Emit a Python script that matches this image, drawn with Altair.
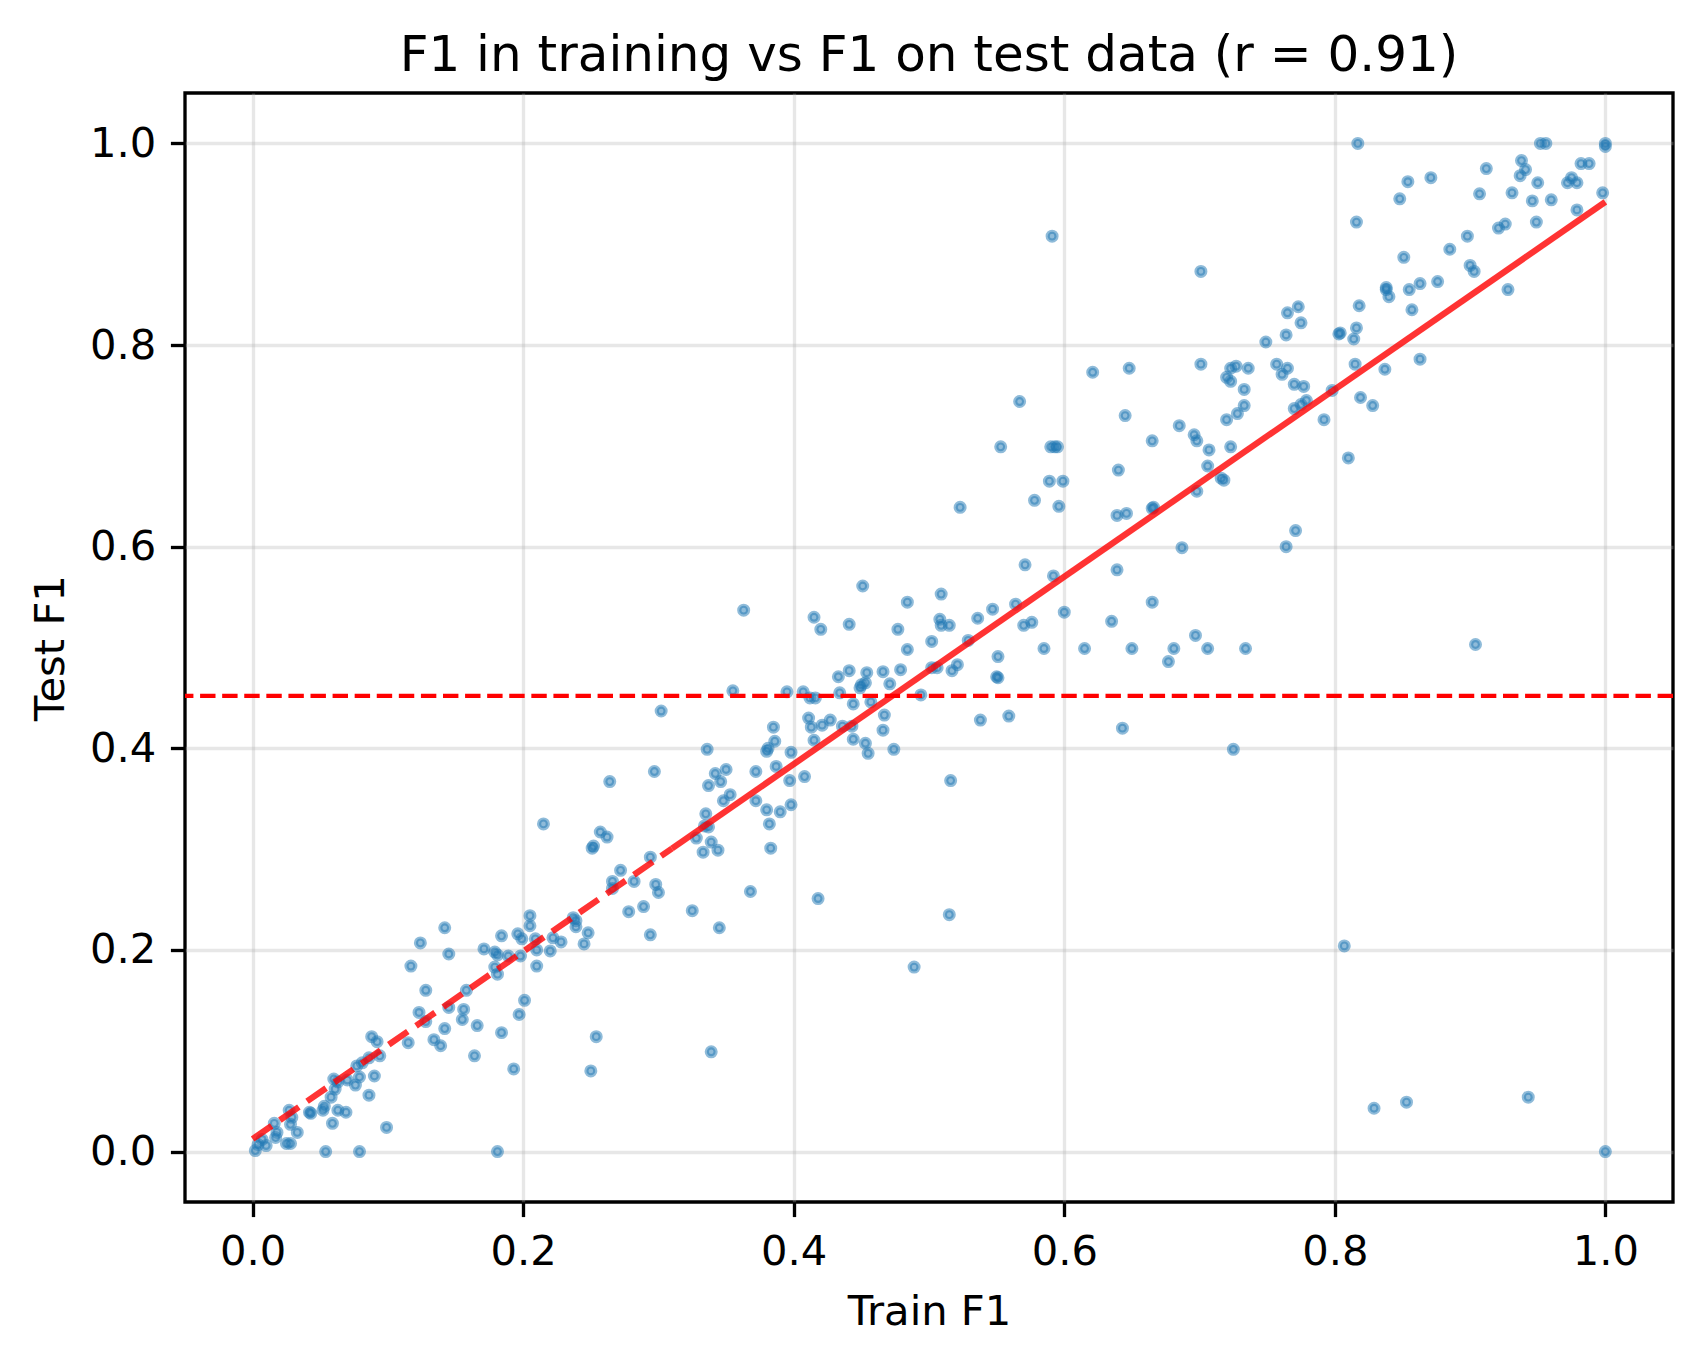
import altair as alt
import pandas as pd

# ---- data: (train F1, test F1) ----
low_points = [
    (0.002, 0.001), (0.004, 0.007), (0.007, 0.012), (0.010, 0.006), (0.016, 0.028),
    (0.018, 0.019), (0.017, 0.014), (0.025, 0.008), (0.028, 0.008), (0.027, 0.041),
    (0.029, 0.034), (0.028, 0.027), (0.033, 0.019), (0.042, 0.039), (0.043, 0.038),
    (0.052, 0.041), (0.053, 0.045), (0.058, 0.054), (0.059, 0.028), (0.063, 0.041),
    (0.069, 0.039), (0.060, 0.072), (0.061, 0.062), (0.063, 0.069), (0.070, 0.071),
    (0.076, 0.066), (0.077, 0.085), (0.081, 0.088), (0.079, 0.074), (0.086, 0.093),
    (0.090, 0.075), (0.094, 0.095), (0.086, 0.056), (0.088, 0.114), (0.092, 0.109),
    (0.099, 0.024), (0.054, 0.000), (0.079, 0.000), (0.115, 0.108), (0.123, 0.138),
    (0.128, 0.129), (0.134, 0.111), (0.139, 0.105), (0.142, 0.122), (0.145, 0.143),
    (0.156, 0.141), (0.155, 0.131), (0.166, 0.125), (0.164, 0.095), (0.181, 0.000),
]

lower_mid_points = [
    (0.215, 0.325), (0.257, 0.317), (0.262, 0.312), (0.252, 0.303), (0.251, 0.301),
    (0.272, 0.279), (0.266, 0.268), (0.266, 0.261), (0.282, 0.268), (0.294, 0.292),
    (0.298, 0.265), (0.300, 0.257), (0.278, 0.238), (0.289, 0.243), (0.294, 0.215),
    (0.237, 0.232), (0.239, 0.223), (0.239, 0.229), (0.248, 0.217), (0.245, 0.206),
    (0.228, 0.208), (0.222, 0.212), (0.220, 0.199), (0.210, 0.184), (0.205, 0.234),
    (0.205, 0.224), (0.196, 0.216), (0.184, 0.214), (0.199, 0.211), (0.209, 0.211),
    (0.210, 0.200), (0.198, 0.194), (0.189, 0.194), (0.179, 0.198), (0.181, 0.195),
    (0.171, 0.201), (0.179, 0.183), (0.181, 0.176), (0.142, 0.222), (0.124, 0.207),
    (0.145, 0.196), (0.117, 0.184), (0.128, 0.160), (0.158, 0.160), (0.184, 0.118),
    (0.201, 0.150), (0.197, 0.136), (0.193, 0.082), (0.254, 0.114), (0.250, 0.080),
    (0.297, 0.377), (0.264, 0.367), (0.345, 0.222), (0.339, 0.099),
]

mid_points = [
    (0.302, 0.437), (0.355, 0.457), (0.336, 0.399), (0.342, 0.375), (0.350, 0.379),
    (0.337, 0.363), (0.346, 0.367), (0.353, 0.354), (0.348, 0.348), (0.335, 0.335),
    (0.334, 0.323), (0.337, 0.322), (0.328, 0.311), (0.339, 0.307), (0.344, 0.299),
    (0.333, 0.297), (0.368, 0.258), (0.325, 0.239), (0.383, 0.301), (0.382, 0.325),
    (0.380, 0.339), (0.390, 0.337), (0.398, 0.344), (0.372, 0.348), (0.397, 0.368),
    (0.408, 0.372), (0.372, 0.377), (0.387, 0.382), (0.398, 0.396), (0.380, 0.397),
    (0.381, 0.400), (0.386, 0.407), (0.385, 0.421), (0.415, 0.408), (0.411, 0.430),
    (0.413, 0.421), (0.421, 0.423), (0.427, 0.428), (0.436, 0.422), (0.443, 0.422),
    (0.444, 0.444), (0.444, 0.409), (0.453, 0.405), (0.455, 0.395), (0.466, 0.418),
    (0.467, 0.433), (0.474, 0.399), (0.457, 0.446), (0.434, 0.455), (0.395, 0.456),
    (0.407, 0.456), (0.412, 0.450), (0.416, 0.450), (0.433, 0.471), (0.441, 0.477),
    (0.449, 0.460), (0.450, 0.463), (0.453, 0.465), (0.454, 0.475), (0.466, 0.476),
    (0.471, 0.464), (0.479, 0.478), (0.484, 0.498), (0.502, 0.506), (0.494, 0.453),
    (0.502, 0.480), (0.506, 0.480), (0.517, 0.477), (0.521, 0.483), (0.538, 0.428),
    (0.516, 0.368), (0.418, 0.251), (0.515, 0.235), (0.489, 0.183),
    (0.363, 0.537), (0.451, 0.561), (0.484, 0.545), (0.415, 0.530), (0.420, 0.518),
    (0.441, 0.523), (0.477, 0.518),
]

upper_mid_points = [
    (0.621, 0.773), (0.648, 0.777), (0.701, 0.781), (0.723, 0.777), (0.727, 0.779),
    (0.736, 0.777), (0.720, 0.768), (0.723, 0.764), (0.733, 0.756), (0.733, 0.740),
    (0.728, 0.732), (0.720, 0.726), (0.645, 0.730), (0.685, 0.720), (0.696, 0.711),
    (0.698, 0.705), (0.707, 0.696), (0.723, 0.699), (0.706, 0.680), (0.716, 0.668),
    (0.718, 0.666), (0.698, 0.655), (0.665, 0.705), (0.640, 0.676), (0.665, 0.638),
    (0.666, 0.639), (0.639, 0.631), (0.646, 0.633), (0.687, 0.599), (0.639, 0.577),
    (0.665, 0.545), (0.697, 0.512), (0.635, 0.526), (0.650, 0.499), (0.681, 0.499),
    (0.706, 0.499), (0.734, 0.499), (0.677, 0.486), (0.615, 0.499), (0.600, 0.535),
    (0.592, 0.571), (0.571, 0.582), (0.567, 0.744), (0.553, 0.699), (0.590, 0.699),
    (0.593, 0.699), (0.595, 0.699), (0.589, 0.665), (0.599, 0.665), (0.578, 0.646),
    (0.596, 0.640), (0.523, 0.639), (0.547, 0.538), (0.564, 0.543), (0.536, 0.529),
    (0.509, 0.553), (0.508, 0.528), (0.509, 0.522), (0.515, 0.522), (0.570, 0.522),
    (0.576, 0.525), (0.529, 0.507), (0.585, 0.499), (0.551, 0.491),
    (0.550, 0.471), (0.551, 0.470), (0.559, 0.432), (0.643, 0.420), (0.725, 0.399),
    (0.764, 0.600), (0.771, 0.616), (0.591, 0.908),
]

high_points = [
    (0.701, 0.873), (0.816, 0.922), (0.898, 0.908), (0.921, 0.916), (0.926, 0.920),
    (0.885, 0.895), (0.851, 0.887), (0.900, 0.879), (0.903, 0.873), (0.928, 0.855),
    (0.838, 0.857), (0.838, 0.855), (0.840, 0.848), (0.855, 0.855), (0.863, 0.861),
    (0.876, 0.863), (0.857, 0.835), (0.818, 0.839), (0.816, 0.817), (0.814, 0.806),
    (0.803, 0.811), (0.804, 0.812), (0.765, 0.832), (0.773, 0.838), (0.775, 0.822),
    (0.764, 0.810), (0.749, 0.803), (0.757, 0.781), (0.765, 0.777), (0.761, 0.771),
    (0.770, 0.761), (0.777, 0.759), (0.770, 0.737), (0.775, 0.741), (0.779, 0.745),
    (0.792, 0.726), (0.798, 0.755), (0.815, 0.781), (0.837, 0.776), (0.819, 0.748),
    (0.828, 0.740), (0.863, 0.786), (0.810, 0.688),
    (1.000, 1.000), (1.000, 0.997), (0.952, 1.000), (0.956, 1.000), (0.938, 0.983),
    (0.941, 0.974), (0.937, 0.968), (0.912, 0.975), (0.982, 0.980), (0.988, 0.980),
    (0.975, 0.966), (0.972, 0.961), (0.979, 0.961), (0.998, 0.951), (0.979, 0.934),
    (0.950, 0.961), (0.931, 0.951), (0.946, 0.943), (0.960, 0.944), (0.907, 0.950),
    (0.949, 0.922), (0.871, 0.966), (0.854, 0.962), (0.848, 0.945), (0.817, 1.000),
]

outlier_points = [
    (0.904, 0.503), (0.807, 0.204), (0.829, 0.043), (0.853, 0.049), (0.943, 0.054),
    (1.000, 0.000),
]

fit_intercept = 0.0125
fit_slope = 0.9295
dashed_range = [0.0, 0.31]
solid_range = [0.31, 1.0]
mean_test_f1 = 0.452
tick_values = [0.0, 0.2, 0.4, 0.6, 0.8, 1.0]
axis_domain = [-0.05, 1.05]
title_text = "F1 in training vs F1 on test data (r = 0.91)"

# ---- tables ----
all_points = low_points + lower_mid_points + mid_points + upper_mid_points + high_points + outlier_points
pts = pd.DataFrame(all_points, columns=["train", "test"])

dash_df = pd.DataFrame({"train": dashed_range,
                        "test": [fit_intercept + fit_slope * v for v in dashed_range]})
solid_df = pd.DataFrame({"train": solid_range,
                         "test": [fit_intercept + fit_slope * v for v in solid_range]})
mean_df = pd.DataFrame({"test": [mean_test_f1]})

FONT = "DejaVu Sans"
PT = 300 / 72.0  # pixels per point at 300 dpi

xscale = alt.Scale(domain=axis_domain, nice=False, zero=False)
yscale = alt.Scale(domain=axis_domain, nice=False, zero=False)

x_axis = alt.Axis(values=tick_values, format=".1f", title="Train F1", grid=True,
                  titlePadding=19, labelPadding=3.5 * PT)
y_axis = alt.Axis(values=tick_values, format=".1f", title="Test F1", grid=True,
                  titlePadding=17, labelPadding=3.5 * PT)

points = alt.Chart(pts).mark_point(
    shape="circle", filled=True, size=78, color="#1f77b4",
    fillOpacity=0.5, stroke="#1f77b4", strokeOpacity=0.5, strokeWidth=1.0 * PT,
).encode(
    x=alt.X("train:Q", scale=xscale, axis=x_axis),
    y=alt.Y("test:Q", scale=yscale, axis=y_axis),
)

mean_rule = alt.Chart(mean_df).mark_rule(
    color="#ff0000", strokeWidth=1.0 * PT, strokeDash=[3.7 * PT, 1.6 * PT]
).encode(y=alt.Y("test:Q", scale=yscale))

dash_line = alt.Chart(dash_df).mark_line(
    color="#ff0000", opacity=0.8, strokeWidth=1.5 * PT,
    strokeDash=[3.7 * 1.5 * PT, 1.6 * 1.5 * PT]
).encode(x=alt.X("train:Q", scale=xscale), y=alt.Y("test:Q", scale=yscale))

solid_line = alt.Chart(solid_df).mark_line(
    color="#ff0000", opacity=0.8, strokeWidth=1.5 * PT
).encode(x=alt.X("train:Q", scale=xscale), y=alt.Y("test:Q", scale=yscale))

chart = alt.layer(points, mean_rule, dash_line, solid_line).properties(
    width=1488, height=1109,
    title=alt.TitleParams(title_text, font=FONT, fontSize=12 * PT, fontWeight="normal",
                          color="black", anchor="middle", offset=25, dy=53,
                          baseline="alphabetic"),
    autosize=alt.AutoSizeParams(type="none"),
    padding={"left": 177, "top": 85, "right": 20, "bottom": 140},
).configure_view(
    stroke="black", strokeWidth=0.8 * PT
).configure_axis(
    domain=False,
    labelFont=FONT, labelFontSize=10 * PT, labelColor="black",
    titleFont=FONT, titleFontSize=10 * PT, titleColor="black", titleFontWeight="normal",
    tickColor="black", tickWidth=0.8 * PT, tickSize=3.5 * PT,
    gridColor="#b0b0b0", gridOpacity=0.3, gridWidth=0.8 * PT,
)

chart.save("out.html", embed_options={"renderer": "svg", "actions": False})
